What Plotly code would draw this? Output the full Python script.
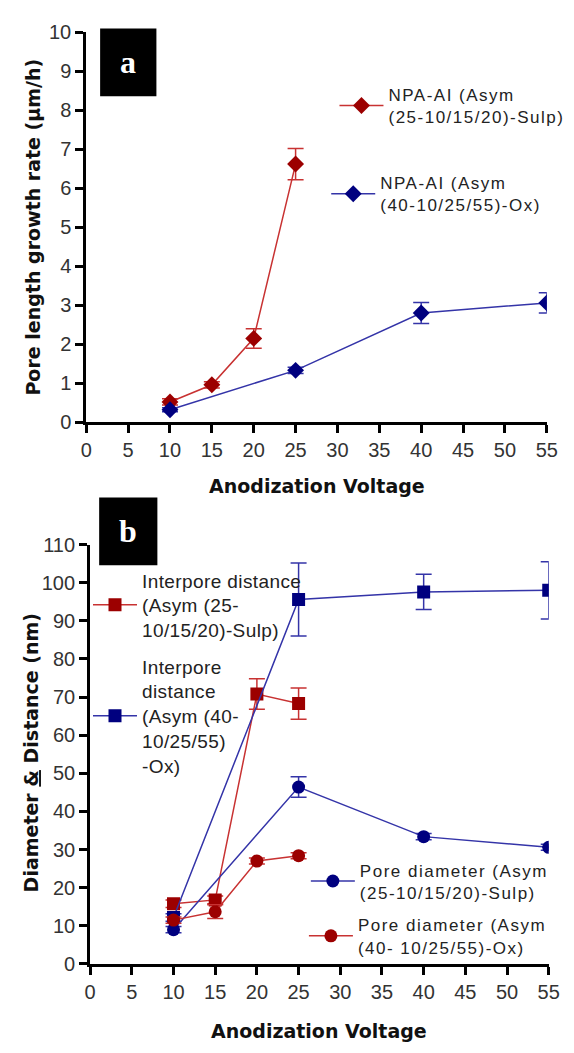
import plotly.graph_objects as go

W, H = 574, 1053

# ---------------- data ----------------
voltage_sulp = [10, 15, 20, 25]
voltage_ox = [10, 25, 40, 55]

growth_sulp = [0.52, 0.96, 2.15, 6.62]
growth_sulp_err = [0.08, 0.08, 0.25, 0.40]
growth_ox = [0.32, 1.33, 2.80, 3.06]
growth_ox_err = [0.05, 0.08, 0.27, 0.26]

interpore_sulp = [15.8, 16.8, 70.8, 68.3]
interpore_sulp_err = [1.0, 1.0, 4.0, 4.1]
interpore_ox = [12.2, 95.6, 97.6, 98.0]
interpore_ox_err = [1.0, 9.6, 4.6, 7.5]
pore_blue = [9.0, 46.4, 33.4, 30.6]
pore_blue_err = [0.8, 2.7, 0.8, 0.8]
pore_red = [11.5, 13.7, 27.0, 28.4]
pore_red_err = [0.8, 1.8, 0.8, 0.8]

x_ticks = [0, 5, 10, 15, 20, 25, 30, 35, 40, 45, 50, 55]


def spaced(text, ls):
    return '<span style="letter-spacing:%spx">%s</span>' % (ls, text)


name_a_red = "NPA-AI (Asym<br>(25-10/15/20)-Sulp)"
name_a_blue = "NPA-AI (Asym<br>(40-10/25/55)-Ox)"
name_b_red_sq = "Interpore distance<br>(Asym (25-<br>10/15/20)-Sulp)"
name_b_blue_sq = "Interpore<br>distance<br>(Asym (40-<br>10/25/55)<br>-Ox)"
name_b_blue_ci = "Pore diameter (Asym<br>(25-10/15/20)-Sulp)"
name_b_red_ci = "Pore diameter (Asym<br>(40- 10/25/55)-Ox)"

# ---------------- style ----------------
RED_M = "#9c0000"
RED_L = "#c83232"
BLUE_M = "#00007f"
BLUE_L = "#3434a8"
TICKFONT = dict(family="Liberation Sans, Arial", size=20, color="#333333")
TITLEFONT = dict(family="DejaVu Sans", size=19, color="#111111")
ITEMW = 44


def px_x(p):
    return p / W


def px_y(p):
    return 1 - p / H


fig = go.Figure()


def add(x, y, err, name, mcol, lcol, symbol, size, xa, ya, legend, ls):
    fig.add_trace(go.Scatter(
        x=x, y=y, name="<br>".join(spaced(t, ls) for t in name.split("<br>")),
        mode="lines+markers",
        xaxis=xa, yaxis=ya, legend=legend,
        line=dict(color=lcol, width=1.5),
        marker=dict(color=mcol, symbol=symbol, size=size),
        error_y=dict(type="data", array=err, visible=True, color=lcol,
                     thickness=1.5, width=8),
    ))


add(voltage_sulp, growth_sulp, growth_sulp_err, name_a_red, RED_M, RED_L, "diamond", 13, "x", "y", "legend", 1.5)
add(voltage_ox, growth_ox, growth_ox_err, name_a_blue, BLUE_M, BLUE_L, "diamond", 13, "x", "y", "legend2", 1.5)

add(voltage_sulp, interpore_sulp, interpore_sulp_err, name_b_red_sq, RED_M, RED_L, "square", 13, "x2", "y2", "legend3", 0.4)
add(voltage_ox, interpore_ox, interpore_ox_err, name_b_blue_sq, BLUE_M, BLUE_L, "square", 13, "x2", "y2", "legend4", 0.4)
add(voltage_ox, pore_blue, pore_blue_err, name_b_blue_ci, BLUE_M, BLUE_L, "circle", 13, "x2", "y2", "legend5", 1.5)
add(voltage_sulp, pore_red, pore_red_err, name_b_red_ci, RED_M, RED_L, "circle", 13, "x2", "y2", "legend6", 1.5)

axis_common = dict(
    showline=True, linecolor="black", linewidth=3,
    ticks="outside", ticklen=8, tickwidth=2.5, tickcolor="black",
    showgrid=False, zeroline=False, tickfont=TICKFONT, fixedrange=True,
)

layout = dict(
    width=W, height=H,
    margin=dict(l=0, r=0, t=0, b=0),
    paper_bgcolor="white", plot_bgcolor="white",
    showlegend=True,
    xaxis=dict(domain=[px_x(82.7), px_x(557.3)], range=[0, 55], tickvals=x_ticks,
               anchor="y", **axis_common),
    yaxis=dict(domain=[px_y(420), px_y(21.7)], range=[0, 10], dtick=1,
               anchor="x", **axis_common),
    xaxis2=dict(domain=[px_x(86.7), px_x(559.3)], range=[0, 55], tickvals=x_ticks,
                anchor="y2", **axis_common),
    yaxis2=dict(domain=[px_y(973.3), px_y(545)], range=[0, 110], dtick=10,
                anchor="x2", **axis_common),
)


def leg(marker_x, text_x, center_y, size):
    left = ((marker_x - ITEMW / 2) + (text_x - ITEMW - 5)) / 2
    return dict(x=px_x(left), y=px_y(center_y),
                xanchor="left", yanchor="middle",
                bgcolor="rgba(0,0,0,0)", borderwidth=0, itemwidth=ITEMW,
                font=dict(family="Liberation Sans, Arial", size=size, color="#222222"),
                itemclick=False, itemdoubleclick=False)


layout["legend"] = leg(355, 393, 97, 17)
layout["legend2"] = leg(347, 384, 187, 17)
layout["legend3"] = leg(103, 137, 607, 19)
layout["legend4"] = leg(103, 137, 720, 19)
layout["legend5"] = leg(327, 362, 889, 17)
layout["legend6"] = leg(325, 360, 945, 17)

fig.update_layout(**layout)

# black label boxes
for (x0, x1, y0, y1, letter) in [(97, 155, 18, 87, "a"), (96, 156, 497, 566, "b")]:
    fig.add_shape(type="rect", xref="paper", yref="paper",
                  x0=px_x(x0), x1=px_x(x1), y0=px_y(y1), y1=px_y(y0),
                  fillcolor="black", line=dict(width=0))
    fig.add_annotation(xref="paper", yref="paper", x=px_x((x0 + x1) / 2), y=px_y((y0 + y1) / 2),
                       text="<b>%s</b>" % letter, showarrow=False,
                       font=dict(family="Liberation Serif, Times New Roman", size=32, color="white"),
                       xanchor="center", yanchor="middle")

# axis titles
fig.add_annotation(xref="paper", yref="paper", x=px_x(320), y=px_y(485),
                   text="<b>Anodization Voltage</b>", showarrow=False,
                   font=TITLEFONT, xanchor="center", yanchor="middle")
fig.add_annotation(xref="paper", yref="paper", x=px_x(323), y=px_y(1042),
                   text="<b>Anodization Voltage</b>", showarrow=False,
                   font=TITLEFONT, xanchor="center", yanchor="middle")
fig.add_annotation(xref="paper", yref="paper", x=px_x(28), y=px_y(221),
                   text="<b>Pore length growth rate (µm/h)</b>", showarrow=False, textangle=-90,
                   font=TITLEFONT, xanchor="center", yanchor="middle")
fig.add_annotation(xref="paper", yref="paper", x=px_x(26), y=px_y(758),
                   text="<b>Diameter <u>&amp;</u> Distance (nm)</b>", showarrow=False, textangle=-90,
                   font=TITLEFONT, xanchor="center", yanchor="middle")

fig.write_html("out.html")
